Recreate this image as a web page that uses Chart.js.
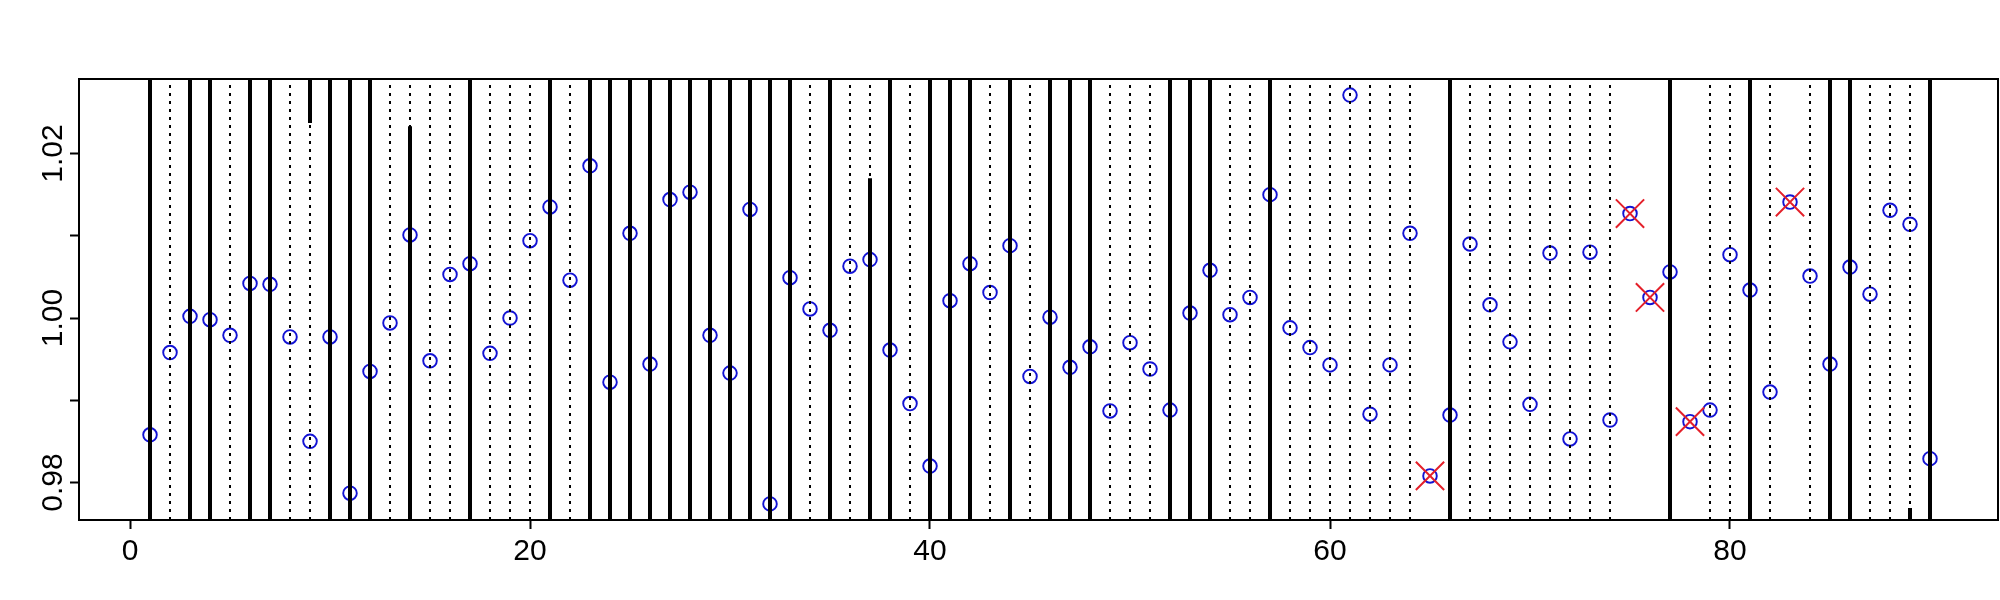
<!DOCTYPE html>
<html>
<head>
<meta charset="utf-8">
<script src="https://cdn.jsdelivr.net/npm/chart.js"></script>
<style>
  html, body { margin: 0; padding: 0; background: #fff; }
  canvas { display: block; }
</style>
</head>
<body>
<canvas id="chart" width="2000" height="600"></canvas>
<script>
// index 1..90 and the value read for each one
const values = [
  0.9858, 0.9958, 1.0002, 0.9998, 0.9979, 1.0042, 1.0041, 0.9977, 0.9850, 0.9977,
  0.9787, 0.9935, 0.9994, 1.0101, 0.9948, 1.0053, 1.0066, 0.9957, 1.0000, 1.0094,
  1.0135, 1.0046, 1.0185, 0.9922, 1.0103, 0.9944, 1.0144, 1.0153, 0.9979, 0.9933,
  1.0132, 0.9774, 1.0049, 1.0011, 0.9985, 1.0063, 1.0071, 0.9961, 0.9896, 0.9820,
  1.0021, 1.0066, 1.0031, 1.0088, 0.9929, 1.0001, 0.9940, 0.9965, 0.9887, 0.9970,
  0.9938, 0.9888, 1.0006, 1.0058, 1.0004, 1.0025, 1.0150, 0.9988, 0.9964, 0.9943,
  1.0271, 0.9883, 0.9943, 1.0103, 0.9808, 0.9882, 1.0090, 1.0016, 0.9971, 0.9895,
  1.0079, 0.9853, 1.0080, 0.9876, 1.0127, 1.0025, 1.0056, 0.9874, 0.9888, 1.0077,
  1.0034, 0.9910, 1.0141, 1.0051, 0.9944, 1.0062, 1.0029, 1.0131, 1.0114, 0.9829
];
const index = values.map((v, i) => i + 1);

// points crossed out in red
const flagged = [65, 75, 76, 78, 83];

// axis ranges
const xMin = -2.55, xMax = 93.4;
const yMin = 0.97544, yMax = 1.02906;

// solid vertical lines: x, lower end, upper end
const solidX  = [1, 3, 4, 6, 7, 9, 10, 11, 12, 14, 17, 21, 23, 24, 25, 26, 27, 28, 29, 30,
                 31, 32, 33, 35, 37, 38, 40, 41, 42, 44, 46, 47, 48, 52, 53, 54, 57, 66, 77, 81,
                 85, 86, 89, 90];
const solidLo = solidX.map(x => ({9: 1.0237}[x] ?? yMin));
const solidHi = solidX.map(x => ({14: 1.0233, 37: 1.0170, 89: 0.9769}[x] ?? yMax));

// dotted vertical lines (full height)
const dottedX = [2, 5, 8, 9, 13, 14, 15, 16, 18, 19, 20, 22, 34, 36, 37, 39, 43, 45, 49, 50,
                 51, 55, 56, 58, 59, 60, 61, 62, 63, 64, 67, 68, 69, 70, 71, 72, 73, 74, 79, 80,
                 82, 84, 87, 88, 89];

// ticks
const xTicks = [0, 20, 40, 60, 80];
const yTicks = [0.98, 0.99, 1.00, 1.01, 1.02];
const yTickLabels = ['0.98', '', '1.00', '', '1.02'];

function segments(xs, lo, hi) {
  const out = [];
  xs.forEach((x, i) => {
    out.push({x: x, y: lo[i]}, {x: x, y: hi[i]}, {x: x, y: null});
  });
  return out;
}

const fontFamily = '"Liberation Sans", Arial, sans-serif';

// frame round the plot + y labels written along the axis, like R does
const framePlugin = {
  id: 'frame',
  afterDraw(chart) {
    const a = chart.chartArea, ctx = chart.ctx, y = chart.scales.y;
    ctx.save();
    ctx.strokeStyle = '#000';
    ctx.lineWidth = 2;
    ctx.strokeRect(a.left, a.top, a.right - a.left, a.bottom - a.top);
    ctx.fillStyle = '#000';
    ctx.font = '30px ' + fontFamily;
    ctx.textAlign = 'center';
    ctx.textBaseline = 'alphabetic';
    yTicks.forEach((v, i) => {
      if (!yTickLabels[i]) return;
      ctx.save();
      ctx.translate(a.left - 17, y.getPixelForValue(v));
      ctx.rotate(-Math.PI / 2);
      ctx.fillText(yTickLabels[i], 0, 0);
      ctx.restore();
    });
    ctx.restore();
  }
};

new Chart(document.getElementById('chart'), {
  type: 'scatter',
  data: {
    datasets: [
      {
        data: flagged.map(x => ({x: x, y: values[x - 1]})),
        pointStyle: 'crossRot',
        pointRadius: 20,
        borderColor: '#e4202a',
        borderWidth: 2,
        order: 0
      },
      {
        data: segments(solidX, solidLo, solidHi),
        showLine: true,
        borderColor: '#000',
        borderWidth: 4,
        borderCapStyle: 'butt',
        pointRadius: 0,
        order: 1
      },
      {
        data: segments(dottedX, dottedX.map(() => yMin), dottedX.map(() => yMax)),
        showLine: true,
        borderColor: '#000',
        borderWidth: 2,
        borderDash: [3, 5],
        borderCapStyle: 'butt',
        pointRadius: 0,
        order: 2
      },
      {
        data: index.map((x, i) => ({x: x, y: values[i]})),
        pointStyle: 'circle',
        pointRadius: 6.8,
        borderWidth: 1.9,
        borderColor: '#1212d4',
        backgroundColor: 'rgba(0,0,0,0)',
        order: 3
      }
    ]
  },
  options: {
    responsive: false,
    devicePixelRatio: 1,
    animation: false,
    events: [],
    layout: {autoPadding: false, padding: {left: 70, top: 79, right: 2, bottom: 25}},
    plugins: {legend: {display: false}, tooltip: {enabled: false}},
    scales: {
      x: {
        type: 'linear',
        min: xMin,
        max: xMax,
        afterBuildTicks: s => { s.ticks = xTicks.map(v => ({value: v})); },
        ticks: {color: '#000', font: {family: fontFamily, size: 30}, padding: 5, maxRotation: 0},
        grid: {drawOnChartArea: false, tickLength: 9, tickWidth: 2, tickColor: '#000'},
        border: {color: '#000', width: 2}
      },
      y: {
        type: 'linear',
        min: yMin,
        max: yMax,
        afterBuildTicks: s => { s.ticks = yTicks.map(v => ({value: v})); },
        ticks: {display: false},
        grid: {drawOnChartArea: false, tickLength: 9, tickWidth: 2, tickColor: '#000'},
        border: {color: '#000', width: 2}
      }
    }
  },
  plugins: [framePlugin]
});
</script>
</body>
</html>
